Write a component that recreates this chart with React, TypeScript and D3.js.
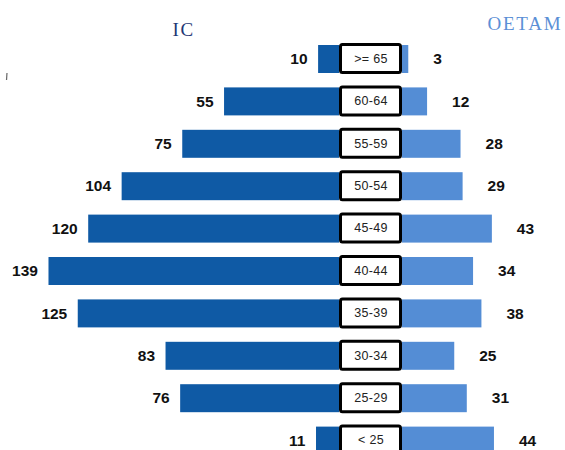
import React from "react";
import * as d3 from "d3";

const ageGroups = [">= 65", "60-64", "55-59", "50-54", "45-49", "40-44", "35-39", "30-34", "25-29", "< 25"];
const icValues = [10, 55, 75, 104, 120, 139, 125, 83, 76, 11];
const oetamValues = [3, 12, 28, 29, 43, 34, 38, 25, 31, 44];
const leftTitle = "IC";
const rightTitle = "OETAM";

const W = 565;
const H = 450;
const boxLeft = 339;
const boxRight = 402;
const pxPerUnit = 2.09;

export default function App() {
  const y = d3
    .scaleBand<string>()
    .domain(ageGroups)
    .range([37.8, 461.8])
    .paddingInner(0.34)
    .paddingOuter(0.17);

  const xLeft = d3.scaleLinear().domain([0, 150]).range([boxLeft, boxLeft - 150 * pxPerUnit]);
  const xRight = d3.scaleLinear().domain([0, 150]).range([boxRight, boxRight + 150 * pxPerUnit]);

  const bw = y.bandwidth();

  return (
    <svg
      width={W}
      height={H}
      viewBox={`0 0 ${W} ${H}`}
      style={{ position: "absolute", left: 0, top: 0, background: "#fff" }}
    >
      <text
        x={172.5}
        y={36}
        fontFamily="'Liberation Serif', 'DejaVu Serif', serif"
        fontSize={19}
        letterSpacing={1.75}
        fill="#1F3775"
      >
        {leftTitle}
      </text>
      <text
        x={487.5}
        y={30}
        fontFamily="'Liberation Serif', 'DejaVu Serif', serif"
        fontSize={19}
        letterSpacing={1.75}
        fill="#5B8FD6"
      >
        {rightTitle}
      </text>
      <line x1={7} y1={73} x2={6.5} y2={80} stroke="#666" strokeWidth={1.2} />

      {ageGroups.map((g, i) => {
        const top = y(g) as number;
        const cy = top + bw / 2;
        const ic = icValues[i];
        const oe = oetamValues[i];
        return (
          <g key={g}>
            <rect
              x={xLeft(ic)}
              y={top}
              width={xLeft(0) - xLeft(ic)}
              height={bw}
              fill="#0F5AA5"
            />
            <rect
              x={xRight(0)}
              y={top}
              width={xRight(oe) - xRight(0)}
              height={bw}
              fill="#548DD5"
            />
            <rect
              x={boxLeft + 1.5}
              y={top - 0.5}
              width={boxRight - boxLeft - 3}
              height={bw}
              rx={2}
              fill="#fff"
              stroke="#000"
              strokeWidth={3}
            />
            <text
              x={(boxLeft + boxRight) / 2 + 0.5}
              y={cy + 0.5}
              textAnchor="middle"
              dominantBaseline="middle"
              fontFamily="'Liberation Sans', Arial, sans-serif"
              fontSize={12.5}
              letterSpacing={0.3}
              fill="#222"
            >
              {g}
            </text>
            <text
              x={xLeft(ic) - 10.5}
              y={cy + 1.2}
              textAnchor="end"
              dominantBaseline="middle"
              fontFamily="'Liberation Sans', Arial, sans-serif"
              fontSize={15.5}
              fontWeight="bold"
              fill="#111"
            >
              {ic}
            </text>
            <text
              x={xRight(oe) + 25}
              y={cy + 1.2}
              textAnchor="start"
              dominantBaseline="middle"
              fontFamily="'Liberation Sans', Arial, sans-serif"
              fontSize={15.5}
              fontWeight="bold"
              fill="#111"
            >
              {oe}
            </text>
          </g>
        );
      })}
    </svg>
  );
}
